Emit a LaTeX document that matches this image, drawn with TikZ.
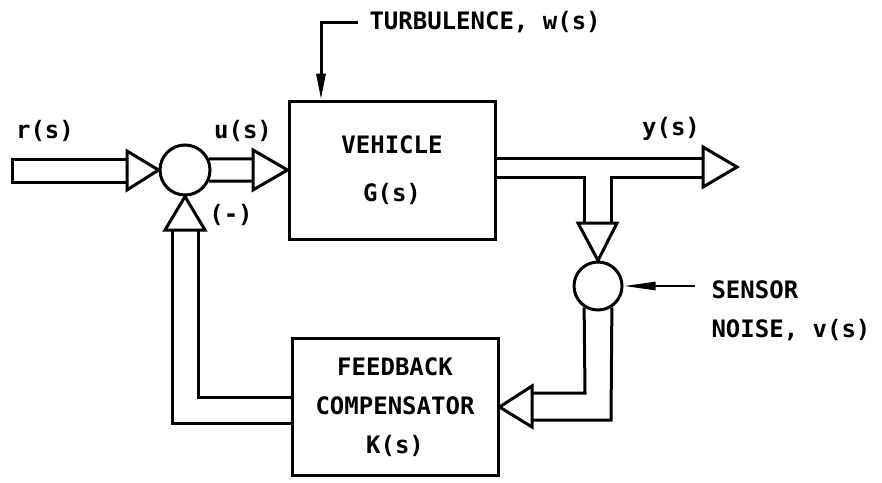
\documentclass[tikz,border=0pt]{standalone}
\usepackage{fontspec}
\setmainfont{DejaVu Sans Mono}
\usetikzlibrary{arrows.meta}
\begin{document}
\begin{tikzpicture}[x=1pt,y=-1pt, line width=3pt, line join=miter,
  every node/.append style={font=\bfseries},
  lbl/.style={inner sep=0pt, font=\fontsize{24}{28}\selectfont\bfseries},
  blk/.style={draw, line width=3pt, align=center, inner sep=0pt},
  sumnode/.style={draw, circle, inner sep=0pt, line width=3pt},
  head/.style={draw, line width=3pt, line join=miter, fill=white},
  sig/.style={line width=3pt, -{Triangle[length=26pt,width=9pt]}},
  noisesig/.style={line width=2.5pt, -{Triangle[length=32pt,width=8pt]}}]
\useasboundingbox (0,0) rectangle (882,482);

% nodes
\node[sumnode, minimum size=50pt] (s1) at (185,170) {};
\node[sumnode, minimum size=48pt] (s2) at (598,286) {};
\node[blk, minimum width=206pt, minimum height=138pt, font=\fontsize{24}{48}\selectfont\bfseries] (G) at (392,170) {VEHICLE\\G(s)};
\node[blk, minimum width=206pt, minimum height=137pt, font=\fontsize{24}{39}\selectfont\bfseries] (K) at (395,407) {FEEDBACK\\COMPENSATOR\\K(s)};

% labels
\node[lbl] (lr) at (45,131) {r(s)};
\node[lbl] (lu) at (243,131) {u(s)};
\node[lbl] (ly) at (671,129) {y(s)};
\node[lbl] (lm) at (231,215) {(-)};
\node[lbl, anchor=west] (tt) at (368,22) {TURBULENCE, w(s)};
\node[lbl, anchor=west] (sn1) at (710,290) {SENSOR};
\node[lbl, anchor=west] (sn2) at (710,330) {NOISE, v(s)};

% input band r(s)
\draw (127,159) -- (12,159) -- (12,182) -- (127,182);
\draw[head] (127,151) -- (127,190) -- (s1.west) -- cycle;

% u(s) band
\draw (s1.25) -- (253,159);
\draw (s1.-25) -- (253,181);
\draw[head] (253,150) -- (253,190) -- (G.west) -- cycle;

% turbulence
\coordinate (tw) at ([xshift=-10pt]tt.west);
\draw[sig] (tw) -| ([xshift=-71pt]G.north);

% output band y(s)
\draw (G.east |- 0,158) -- (703,158);
\draw (G.east |- 0,177) -- (584,177) -- (584,223);
\draw (703,177) -- (611,177) -- (611,223);
\draw[head] (703,147) -- (703,187) -- (737,167) -- cycle;
\draw[head] (578,223) -- (617,223) -- (s2.north) -- cycle;

% sensor noise
\coordinate (nz) at (695,286);
\draw[noisesig] (nz) -- (s2.east);

% band from s2 to K
\draw (s2.-123) -- (585,393) -- (532,393);
\draw (s2.-57) -- (611,420) -- (532,420);
\draw[head] (532,386) -- (532,427) -- (K.east) -- cycle;

% feedback band from K to s1
\draw (K.west |- 0,397) -- (198,397) -- (198,230);
\draw (K.west |- 0,423) -- (172,423) -- (172,230);
\draw[head] (165,230) -- (205,230) -- (s1.south) -- cycle;
\end{tikzpicture}
\end{document}
